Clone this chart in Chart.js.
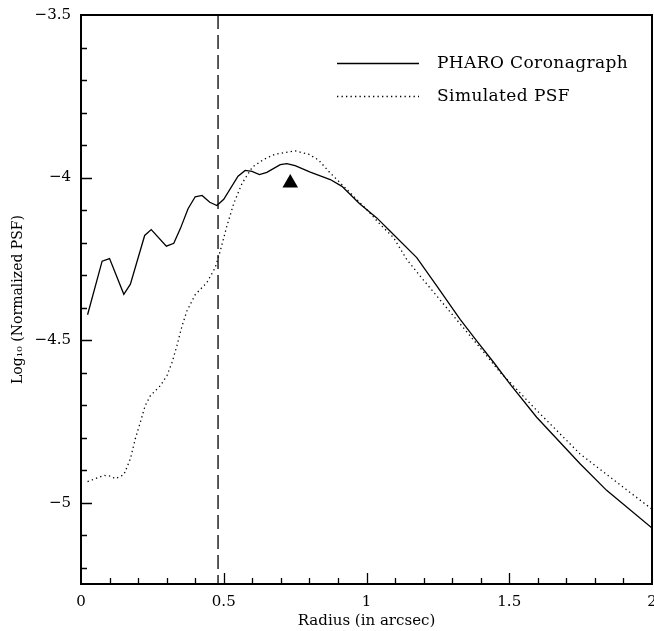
<!DOCTYPE html>
<html>
<head>
<meta charset="utf-8">
<script src="https://cdn.jsdelivr.net/npm/chart.js@4/dist/chart.umd.min.js"></script>
<style>
html,body{margin:0;padding:0;background:#fff;}
canvas{display:block;}
</style>
</head>
<body>
<canvas id="c" width="654" height="631"></canvas>
<script>
// ---- data ----
const pharoRadius = [0.023,0.074,0.100,0.150,0.173,0.223,0.246,0.299,0.325,0.348,0.375,0.400,0.424,0.451,0.476,0.500,0.550,0.575,0.599,0.625,0.651,0.698,0.721,0.750,0.803,0.873,0.914,0.975,1.036,1.083,1.176,1.246,1.328,1.386,1.445,1.503,1.596,1.748,1.841,2.0];
const pharoLog   = [-4.422,-4.257,-4.249,-4.359,-4.328,-4.178,-4.160,-4.211,-4.202,-4.157,-4.096,-4.059,-4.055,-4.076,-4.086,-4.067,-3.996,-3.978,-3.981,-3.991,-3.984,-3.960,-3.957,-3.963,-3.983,-4.006,-4.027,-4.080,-4.124,-4.165,-4.246,-4.333,-4.436,-4.502,-4.568,-4.635,-4.737,-4.880,-4.962,-5.078];

const simRadius = [0.023,0.080,0.103,0.120,0.150,0.173,0.190,0.208,0.225,0.243,0.278,0.301,0.319,0.336,0.354,0.371,0.400,0.441,0.470,0.488,0.511,0.535,0.564,0.600,0.640,0.680,0.750,0.797,0.832,0.873,0.902,0.943,0.995,1.048,1.095,1.141,1.188,1.246,1.305,1.363,1.421,1.468,1.503,1.585,1.655,1.748,1.853,2.0];
const simLog    = [-4.935,-4.916,-4.918,-4.926,-4.914,-4.865,-4.804,-4.752,-4.701,-4.671,-4.640,-4.609,-4.568,-4.517,-4.456,-4.410,-4.360,-4.323,-4.277,-4.225,-4.149,-4.080,-4.018,-3.968,-3.944,-3.928,-3.918,-3.928,-3.946,-3.986,-4.011,-4.047,-4.093,-4.144,-4.185,-4.252,-4.303,-4.364,-4.426,-4.487,-4.548,-4.599,-4.630,-4.706,-4.768,-4.850,-4.921,-5.020];

const cutoffRadius = 0.48;
const peakRadius = [0.733];
const peakLog = [-4.017];

const seriesNames = ['PHARO Coronagraph', 'Simulated PSF'];
const xTicks = [0, 0.5, 1, 1.5, 2];
const yTicks = [-5, -4.5, -4, -3.5];
const xRange = [0, 2];
const yRange = [-5.25, -3.5];
const minorStep = 0.1;

const FONT = '"DejaVu Serif", serif';

const pts = (xs, ys) => xs.map((x, i) => ({x: x, y: ys[i]}));
const fmt = v => (v < 0 ? '\u2212' : '') + String(Math.abs(v));

// box, inward ticks and in-plot legend
const framePlugin = {
  id: 'frame',
  afterDatasetsDraw(chart) {
    const {ctx, chartArea: a, scales} = chart;
    const xs = scales.x, ys = scales.y;
    ctx.save();
    ctx.strokeStyle = '#000';
    ctx.lineWidth = 2;
    ctx.strokeRect(a.left, a.top, a.right - a.left, a.bottom - a.top);
    ctx.lineWidth = 1.3;
    ctx.beginPath();
    const nx = Math.round((xRange[1] - xRange[0]) / minorStep);
    for (let i = 1; i < nx; i++) {
      const v = xRange[0] + i * minorStep;
      const major = Math.abs(v / 0.5 - Math.round(v / 0.5)) < 1e-6;
      const px = Math.round(xs.getPixelForValue(v)) + 0.5;
      ctx.moveTo(px, a.bottom);
      ctx.lineTo(px, a.bottom - (major ? 11 : 6));
    }
    const ny = Math.round((yRange[1] - yRange[0]) / minorStep);
    for (let i = 0; i <= ny + 1; i++) {
      const v = -3.5 - i * minorStep;
      if (v <= yRange[0] || v >= yRange[1]) continue;
      const major = Math.abs(v / 0.5 - Math.round(v / 0.5)) < 1e-6;
      const py = Math.round(ys.getPixelForValue(v)) + 0.5;
      ctx.moveTo(a.left, py);
      ctx.lineTo(a.left + (major ? 11 : 6), py);
    }
    ctx.stroke();

    // legend
    const ds = chart.data.datasets;
    const rows = [{d: ds[0], y: 63}, {d: ds[1], y: 96}];
    ctx.font = '17px ' + FONT;
    ctx.textBaseline = 'middle';
    ctx.fillStyle = '#000';
    ctx.letterSpacing = '0.4px';
    rows.forEach(r => {
      ctx.beginPath();
      ctx.lineWidth = r.d.borderWidth;
      ctx.setLineDash(r.d.borderDash || []);
      ctx.moveTo(337, r.y + 0.5);
      ctx.lineTo(419, r.y + 0.5);
      ctx.stroke();
      ctx.setLineDash([]);
      ctx.fillText(r.d.label, 437, r.y + 1);
    });
    ctx.restore();
  }
};

new Chart(document.getElementById('c'), {
  type: 'scatter',
  data: {
    datasets: [
      {
        label: seriesNames[0],
        data: pts(pharoRadius, pharoLog),
        showLine: true, borderColor: '#000', borderWidth: 1.3,
        pointRadius: 0, tension: 0, fill: false
      },
      {
        label: seriesNames[1],
        data: pts(simRadius, simLog),
        showLine: true, borderColor: '#000', borderWidth: 1.3,
        borderDash: [1.3, 3.2],
        pointRadius: 0, tension: 0, fill: false
      },
      {
        label: 'cutoff',
        data: [{x: cutoffRadius, y: yRange[1]}, {x: cutoffRadius, y: yRange[0]}],
        showLine: true, borderColor: '#000', borderWidth: 1.3,
        borderDash: [14, 6], pointRadius: 0
      },
      {
        label: 'peak',
        data: pts(peakRadius, peakLog),
        showLine: false, pointStyle: 'triangle', pointRadius: 9,
        backgroundColor: '#000', borderColor: '#000', borderWidth: 0
      }
    ]
  },
  options: {
    responsive: false,
    animation: false,
    devicePixelRatio: 1,
    layout: {autoPadding: false, padding: {top: 15, right: 2, left: 0, bottom: 0}},
    plugins: {legend: {display: false}, tooltip: {enabled: false}},
    scales: {
      x: {
        type: 'linear', min: xRange[0], max: xRange[1],
        grid: {display: false, drawTicks: false},
        border: {display: false},
        afterBuildTicks: s => { s.ticks = xTicks.map(v => ({value: v})); },
        afterFit: s => { s.height = 47; s.paddingLeft = 0; s.paddingRight = 0; },
        ticks: {
          color: '#000', padding: 9, maxRotation: 0, autoSkip: false,
          font: {family: FONT, size: 15},
          callback: v => fmt(v)
        },
        title: {
          display: true, text: 'Radius (in arcsec)', color: '#000',
          font: {family: FONT, size: 15}, padding: {top: 0, bottom: 1}
        }
      },
      y: {
        type: 'linear', min: yRange[0], max: yRange[1],
        grid: {display: false, drawTicks: false},
        border: {display: false},
        afterBuildTicks: s => { s.ticks = yTicks.map(v => ({value: v})); },
        afterFit: s => { s.width = 81; s.paddingTop = 0; s.paddingBottom = 0; },
        ticks: {
          color: '#000', padding: 10, autoSkip: false,
          font: {family: FONT, size: 15},
          callback: v => fmt(v)
        },
        title: {
          display: true, text: 'Log\u2081\u2080 (Normalized PSF)', color: '#000',
          font: {family: FONT, size: 14}, padding: {top: 10, bottom: 0}
        }
      }
    }
  },
  plugins: [framePlugin]
});
</script>
</body>
</html>
